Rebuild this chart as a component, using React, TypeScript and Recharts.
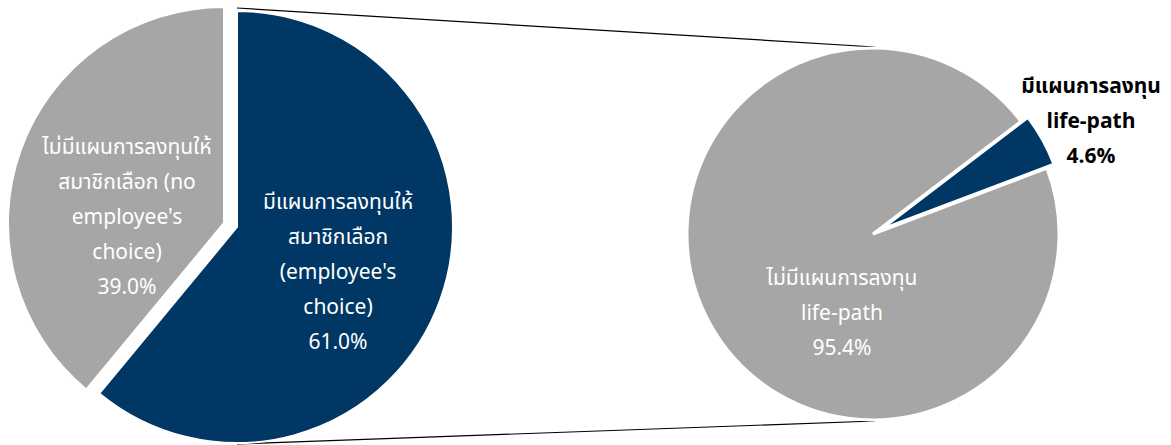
import React from "react";
import { PieChart, Pie, Cell } from "recharts";

// left pie: fund offers employee's choice or not
const planCategories = [
  "มีแผนการลงทุนให้สมาชิกเลือก (employee's choice)",
  "ไม่มีแผนการลงทุนให้สมาชิกเลือก (no employee's choice)",
];
const planShares = [61.0, 39.0];
const planLabelLines = [
  ["มีแผนการลงทุนให้", "สมาชิกเลือก", "(employee's", "choice)"],
  ["ไม่มีแผนการลงทุนให้", "สมาชิกเลือก (no", "employee's", "choice)"],
];

// right pie: life-path plan among funds with choice
const lifePathCategories = ["มีแผนการลงทุน life-path", "ไม่มีแผนการลงทุน life-path"];
const lifePathShares = [4.6, 95.4];
const lifePathLabelLines = [
  ["มีแผนการลงทุน", "life-path"],
  ["ไม่มีแผนการลงทุน", "life-path"],
];

const NAVY = "#003764";
const GRAY = "#A6A6A6";
const FONT = "'Noto Sans Thai', 'Leelawadee UI', Tahoma, 'DejaVu Sans', 'Noto Sans', sans-serif";

const W = 1171;
const H = 445;

const planData = planCategories.map((name, i) => ({ name, value: planShares[i] }));
const lifePathData = lifePathCategories.map((name, i) => ({ name, value: lifePathShares[i] }));

// slice centres (exploded) and label offsets
const LEFT_R = 216;
const leftCenters = [
  { cx: 237, cy: 227 },
  { cx: 224, cy: 223 },
];
const leftLabelPos = [
  { dx: 101, dy: -25, color: "#fff", weight: 400 },
  { dx: -97, dy: -76, color: "#fff", weight: 400 },
];

const RIGHT_R = 186;
const rightCenters = [
  { cx: 880, cy: 230 },
  { cx: 873, cy: 234 },
];
const rightLabelPos = [
  { dx: 211, dy: -144, color: "#000", weight: 700 },
  { dx: -31, dy: 44, color: "#fff", weight: 400 },
];
const RIGHT_START = 37.3;

const LINE_H = 35;

function makeLabel(
  idx: number,
  center: { cx: number; cy: number },
  pos: { dx: number; dy: number; color: string; weight: number },
  lines: string[][],
  values: number[]
) {
  return (props: any) => {
    if (props.index !== idx) return null;
    const x = center.cx + pos.dx;
    const y0 = center.cy + pos.dy;
    const all = [...lines[idx], `${values[idx].toFixed(1)}%`];
    return (
      <text
        key={`lbl-${idx}`}
        textAnchor="middle"
        dominantBaseline="central"
        fill={pos.color}
        fontWeight={pos.weight}
        fontSize={21}
        fontFamily={FONT}
      >
        {all.map((t, i) => (
          <tspan key={i} x={x} y={y0 + i * LINE_H} dominantBaseline="central">
            {t}
          </tspan>
        ))}
      </text>
    );
  };
}

export default function App() {
  return (
    <div style={{ position: "absolute", left: 0, top: 0, width: W, height: H, background: "#fff" }}>
      <svg width={W} height={H} style={{ position: "absolute", left: 0, top: 0 }}>
        <line x1={237} y1={8} x2={875} y2={47} stroke="#000" strokeWidth={1.2} />
        <line x1={237} y1={444} x2={875} y2={421} stroke="#000" strokeWidth={1.2} />
      </svg>
      <div style={{ position: "absolute", left: 0, top: 0 }}>
        <PieChart width={W} height={H} margin={{ top: 0, right: 0, bottom: 0, left: 0 }}>
          {planData.map((_, idx) => (
            <Pie
              key={`plan-${idx}`}
              data={planData}
              dataKey="value"
              nameKey="name"
              cx={leftCenters[idx].cx}
              cy={leftCenters[idx].cy}
              outerRadius={LEFT_R}
              startAngle={90}
              endAngle={-270}
              isAnimationActive={false}
              labelLine={false}
              label={makeLabel(idx, leftCenters[idx], leftLabelPos[idx], planLabelLines, planShares)}
            >
              {planData.map((__, j) => (
                <Cell
                  key={j}
                  fill={j === idx ? (j === 0 ? NAVY : GRAY) : "transparent"}
                  stroke={j === idx ? "#fff" : "none"}
                  strokeWidth={2}
                />
              ))}
            </Pie>
          ))}
          {lifePathData.map((_, idx) => (
            <Pie
              key={`life-${idx}`}
              data={lifePathData}
              dataKey="value"
              nameKey="name"
              cx={rightCenters[idx].cx}
              cy={rightCenters[idx].cy}
              outerRadius={RIGHT_R}
              startAngle={RIGHT_START}
              endAngle={RIGHT_START - 360}
              isAnimationActive={false}
              labelLine={false}
              label={makeLabel(idx, rightCenters[idx], rightLabelPos[idx], lifePathLabelLines, lifePathShares)}
            >
              {lifePathData.map((__, j) => (
                <Cell
                  key={j}
                  fill={j === idx ? (j === 0 ? NAVY : GRAY) : "transparent"}
                  stroke={j === idx ? "#fff" : "none"}
                  strokeWidth={3}
                />
              ))}
            </Pie>
          ))}
        </PieChart>
      </div>
    </div>
  );
}
